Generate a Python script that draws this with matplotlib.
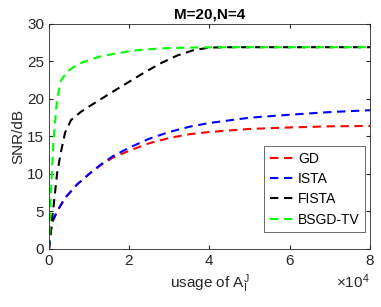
import matplotlib
matplotlib.use("Agg")
import matplotlib.pyplot as plt

plt.rcParams["font.family"] = ["Liberation Sans", "DejaVu Sans"]
plt.rcParams["mathtext.fontset"] = "custom"
plt.rcParams["mathtext.rm"] = "Liberation Sans"
plt.rcParams["mathtext.it"] = "Liberation Sans"

# x values in units of 1e4
gd_x = [0, 0.05, 0.1, 0.2, 0.4, 0.7, 1.0, 1.3, 1.6, 2.0, 2.5, 3.0, 3.5, 4.0, 5.0, 6.0, 7.0, 8.0]
gd_y = [0, 2.5, 3.8, 5.0, 6.8, 8.6, 10.0, 11.2, 12.2, 13.1, 14.1, 14.8, 15.3, 15.6, 16.0, 16.2, 16.35, 16.4]

ista_x = [0, 0.05, 0.1, 0.2, 0.4, 0.7, 1.0, 1.3, 1.6, 2.0, 2.5, 3.0, 3.5, 4.0, 5.0, 6.0, 7.0, 8.0]
ista_y = [0, 2.5, 3.8, 5.0, 6.8, 8.6, 10.0, 11.3, 12.4, 13.5, 14.7, 15.6, 16.3, 16.8, 17.5, 17.9, 18.25, 18.5]

fista_x = [0, 0.05, 0.1, 0.2, 0.3, 0.4, 0.55, 0.8, 1.0, 1.3, 1.6, 2.0, 2.4, 2.8, 3.2, 3.6, 4.0, 4.5, 8.0]
fista_y = [0, 3, 5, 10, 13, 15.5, 17.2, 18.3, 19.0, 20.0, 21.0, 22.3, 23.6, 24.8, 25.8, 26.5, 26.85, 26.9, 26.9]

bsgd_x = [0, 0.03, 0.07, 0.12, 0.2, 0.3, 0.45, 0.6, 0.8, 1.0, 1.3, 1.7, 2.2, 2.8, 3.5, 4.5, 8.0]
bsgd_y = [0, 5, 10, 15, 20, 22.5, 23.6, 24.2, 24.8, 25.2, 25.7, 26.1, 26.5, 26.75, 26.85, 26.9, 26.9]


def main():
    fig = plt.figure(figsize=(3.81, 3.07), dpi=100)
    ax = fig.add_axes([0.1286, 0.189, 0.8424, 0.733])

    s = 1e4
    dash = (4, 2.7)
    ax.plot([v * s for v in gd_x], gd_y, color="#ff0000", lw=1.5, dashes=dash, label="GD")
    ax.plot([v * s for v in ista_x], ista_y, color="#0000ff", lw=1.5, dashes=dash, label="ISTA")
    ax.plot([v * s for v in fista_x], fista_y, color="black", lw=1.5, dashes=dash, label="FISTA")
    ax.plot([v * s for v in bsgd_x], bsgd_y, color="#00ff00", lw=1.5, dashes=dash, label="BSGD-TV")

    ax.set_xlim(0, 8e4)
    ax.set_ylim(0, 30)
    ax.set_xticks([0, 2e4, 4e4, 6e4, 8e4])
    ax.set_yticks([0, 5, 10, 15, 20, 25, 30])
    ax.tick_params(direction="in", labelsize=11, length=3, color="#262626",
                   top=True, right=True, labelcolor="#262626")
    for sp in ax.spines.values():
        sp.set_color("#262626")
        sp.set_linewidth(0.6)
    ax.ticklabel_format(axis="x", style="sci", scilimits=(4, 4), useMathText=True)
    ax.xaxis.get_offset_text().set_fontsize(11)
    ax.xaxis.get_offset_text().set_color("#262626")

    ax.set_title("M=20,N=4", fontsize=11, fontweight="bold", pad=4)
    ax.set_ylabel("SNR/dB", fontsize=11, color="#262626", labelpad=1)
    ax.set_xlabel(r"usage of $\mathrm{A}_\mathrm{I}^\mathrm{J}$", fontsize=11, color="#262626", labelpad=3)

    leg = ax.legend(loc="lower right", bbox_to_anchor=(0.985, 0.075), fontsize=10,
                    frameon=True, fancybox=False, handlelength=1.8, handletextpad=0.2,
                    borderpad=0.4, labelspacing=0.45, borderaxespad=0)
    leg.get_frame().set_edgecolor("#262626")
    leg.get_frame().set_linewidth(0.6)

    fig.savefig("out.png", dpi=100)


if __name__ == "__main__":
    main()
